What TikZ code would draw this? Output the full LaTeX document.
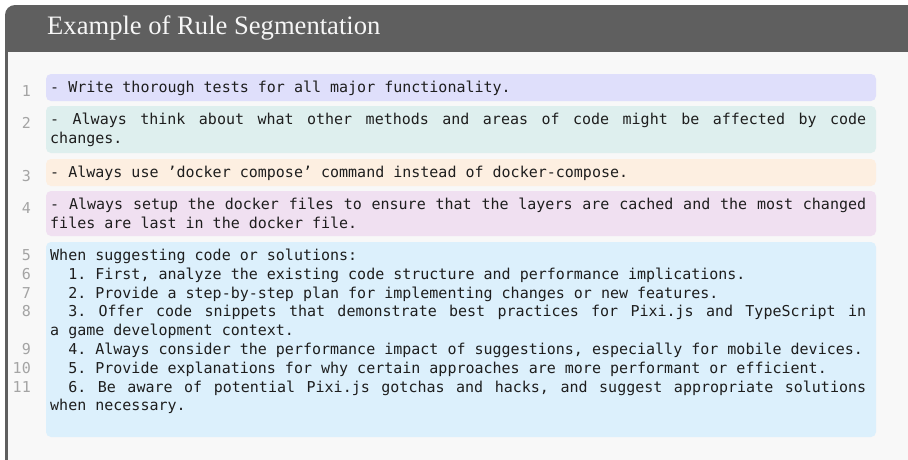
\documentclass[tikz,border=0pt]{standalone}
\usepackage{fontspec}
\setmonofont{DejaVu Sans Mono}
\newfontfamily\titlefont{Liberation Serif}
\definecolor{framec}{HTML}{5F5F5F}
\definecolor{bodyc}{HTML}{F8F8F8}
\definecolor{titlec}{HTML}{F6F6F6}
\definecolor{cA}{HTML}{DFDFFB}
\definecolor{cB}{HTML}{DEEFEE}
\definecolor{cC}{HTML}{FDEFE1}
\definecolor{cD}{HTML}{F0E0F1}
\definecolor{cE}{HTML}{DCF0FC}
\definecolor{numc}{HTML}{A4A4A4}
\definecolor{txtc}{HTML}{1E1E1E}
\newcommand\justline[1]{\hbox to 816pt{\spaceskip=\fontdimen2\font plus 1fil\relax#1}}
\newcommand\ind{\phantom{xx}}
\begin{document}
\begin{tikzpicture}[x=1pt,y=-1pt,
  monofont/.style={font=\ttfamily\frenchspacing\fontsize{15}{18}\selectfont},
  rowtxt/.style={monofont,anchor=base west,inner sep=0pt,text=txtc},
  lnum/.style={monofont,anchor=base east,inner sep=0pt,text=numc},
  segbox/.style={rounded corners=5pt}]
\useasboundingbox (0,0) rectangle (908,459);
\begin{scope}
\clip (0,0) rectangle (908,459);
\fill[framec,rounded corners=10pt] (5,5) rectangle (1100,480);
\fill[bodyc] (8,52) rectangle (1100,470);
\fill[framec] (5,440) rectangle (8,470);
\fill[bodyc] (8,440) -- (8,452) arc[start angle=180,end angle=270,radius=7pt] -- (30,459) -- (30,440) -- cycle;
\end{scope}
\node[anchor=base west,inner sep=0pt,text=titlec,font=\titlefont\fontsize{26.6}{27}\selectfont] (title) at (47,34) {Example of Rule Segmentation};
% segment boxes
\fill[cA,segbox] (46,74) rectangle (876,101);
\fill[cB,segbox] (46,106) rectangle (876,153);
\fill[cC,segbox] (46,159) rectangle (876,186);
\fill[cD,segbox] (46,191) rectangle (876,236);
\fill[cE,segbox] (46,242) rectangle (876,437);
% line numbers
\node[lnum] (n1) at (31,96) {1};
\node[lnum] (n2) at (31,128) {2};
\node[lnum] (n3) at (31,181) {3};
\node[lnum] (n4) at (31,213) {4};
\node[lnum] (n5) at (31,260.5) {5};
\node[lnum] (n6) at (31,279.3) {6};
\node[lnum] (n7) at (31,298.1) {7};
\node[lnum] (n8) at (31,316.9) {8};
\node[lnum] (n9) at (31,354.5) {9};
\node[lnum] (n10) at (31,373.3) {10};
\node[lnum] (n11) at (31,392.1) {11};
% texts
\node[rowtxt] (t1) at (50,92.5) {- Write thorough tests for all major functionality.};
\node[rowtxt] (t2a) at (50,124.5) {\justline{- Always think about what other methods and areas of code might be affected by code}};
\node[rowtxt] (t2b) at (50,143.3) {changes.};
\node[rowtxt] (t3) at (50,177.5) {- Always use ’docker compose’ command instead of docker-compose.};
\node[rowtxt] (t4a) at (50,209.5) {\justline{- Always setup the docker files to ensure that the layers are cached and the most changed}};
\node[rowtxt] (t4b) at (50,228.3) {files are last in the docker file.};
\node[rowtxt] (t5a) at (50,260.5) {When suggesting code or solutions:};
\node[rowtxt] (t5b) at (50,279.3) {\ind 1. First, analyze the existing code structure and performance implications.};
\node[rowtxt] (t5c) at (50,298.1) {\ind 2. Provide a step-by-step plan for implementing changes or new features.};
\node[rowtxt] (t5d) at (50,316.9) {\justline{\ind 3. Offer code snippets that demonstrate best practices for Pixi.js and TypeScript in}};
\node[rowtxt] (t5e) at (50,335.7) {a game development context.};
\node[rowtxt] (t5f) at (50,354.5) {\ind 4. Always consider the performance impact of suggestions, especially for mobile devices.};
\node[rowtxt] (t5g) at (50,373.3) {\ind 5. Provide explanations for why certain approaches are more performant or efficient.};
\node[rowtxt] (t5h) at (50,392.1) {\justline{\ind 6. Be aware of potential Pixi.js gotchas and hacks, and suggest appropriate solutions}};
\node[rowtxt] (t5i) at (50,410.9) {when necessary.};
\end{tikzpicture}
\end{document}
